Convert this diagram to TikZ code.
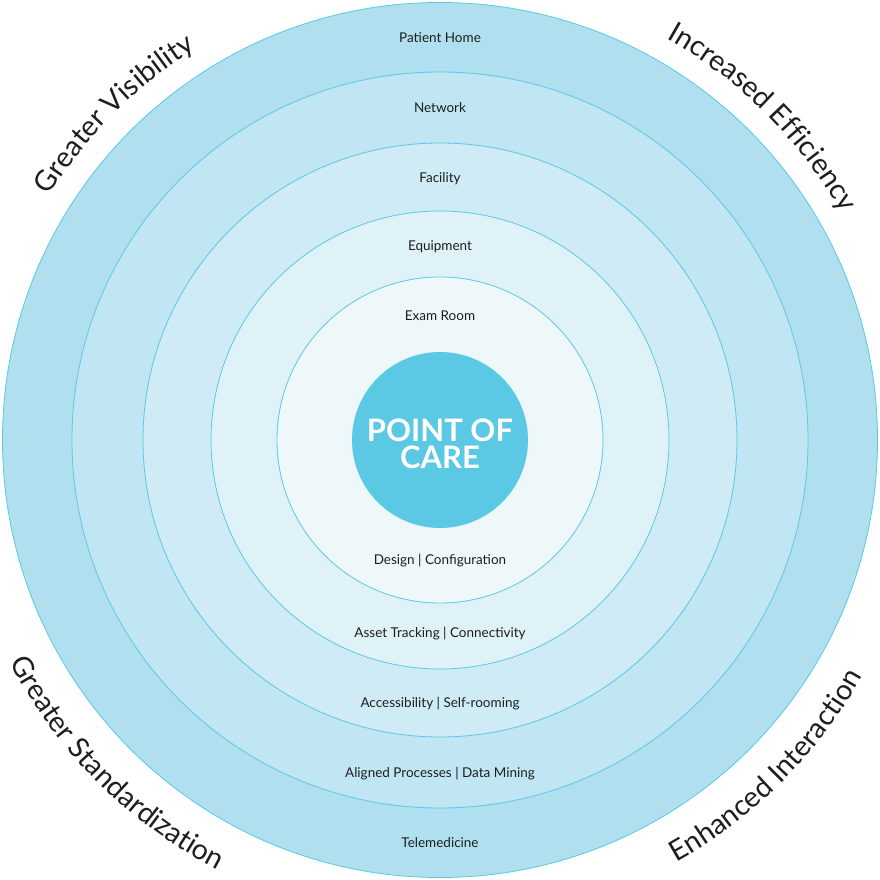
\documentclass[tikz,border=0pt]{standalone}
\usepackage{fontspec}
\setmainfont{Lato}
\usetikzlibrary{decorations.text}
\definecolor{ringA}{HTML}{B0DFEF}
\definecolor{ringB}{HTML}{C0E6F3}
\definecolor{ringC}{HTML}{CFEBF5}
\definecolor{ringD}{HTML}{DFF2F8}
\definecolor{ringE}{HTML}{EEF8FB}
\definecolor{coreblue}{HTML}{5BC8E4}
\definecolor{edgeblue}{HTML}{5BC8E4}
\definecolor{txt}{HTML}{1E1E1E}
\newcommand\cornerfont{\fontsize{28.5}{34}\selectfont}
\begin{document}
\begin{tikzpicture}[x=1pt,y=1pt,
  ringline/.style={draw=edgeblue, line width=0.8pt},
  lbl/.style={anchor=base, font=\fontsize{13.5}{16}\selectfont, text=txt, inner sep=0pt},
  core/.style={anchor=base, inner sep=0pt, text=white, font=\fontsize{31}{32}\selectfont\bfseries},
  corner/.style={decorate, decoration={text along path, text align=center, text color=txt, text={|\cornerfont|#1}}}
]
\useasboundingbox (-440,-440) rectangle (439,440);
\fill[white] (-440,-440) rectangle (439,440);
\filldraw[fill=ringA, ringline] (0,0) circle[radius=437.5];
\filldraw[fill=ringB, ringline] (0,0) circle[radius=368];
\filldraw[fill=ringC, ringline] (0,0) circle[radius=297];
\filldraw[fill=ringD, ringline] (0,0) circle[radius=229];
\filldraw[fill=ringE, ringline] (0,0) circle[radius=163];
\fill[coreblue] (0,0) circle[radius=88];

\node[lbl] (home) at (0,397) {Patient Home};
\node[lbl] (net) at (0,327) {Network};
\node[lbl] (fac) at (0,257) {Facility};
\node[lbl] (equ) at (0,189) {Equipment};
\node[lbl] (exam) at (0,119) {Exam Room};
\node[lbl] (design) at (0,-124) {Design | Configuration};
\node[lbl] (asset) at (0,-197) {Asset Tracking | Connectivity};
\node[lbl] (access) at (0,-267) {Accessibility | Self-rooming};
\node[lbl] (align) at (0,-337) {Aligned Processes | Data Mining};
\node[lbl] (tele) at (0,-407) {Telemedicine};

\node[core] (poc1) at (0,-2) {POINT OF};
\node[core] (poc2) at (0,-29) {CARE};

\path[corner={Greater Visibility}] (175:461) arc[start angle=175, end angle=95, radius=461];
\path[corner={Increased Efficiency}] (85:461) arc[start angle=85, end angle=5, radius=461];
\path[corner={Greater Standardization}] (185:484) arc[start angle=185, end angle=265, radius=484];
\path[corner={Enhanced Interaction}] (275:484) arc[start angle=275, end angle=355, radius=484];
\end{tikzpicture}
\end{document}
